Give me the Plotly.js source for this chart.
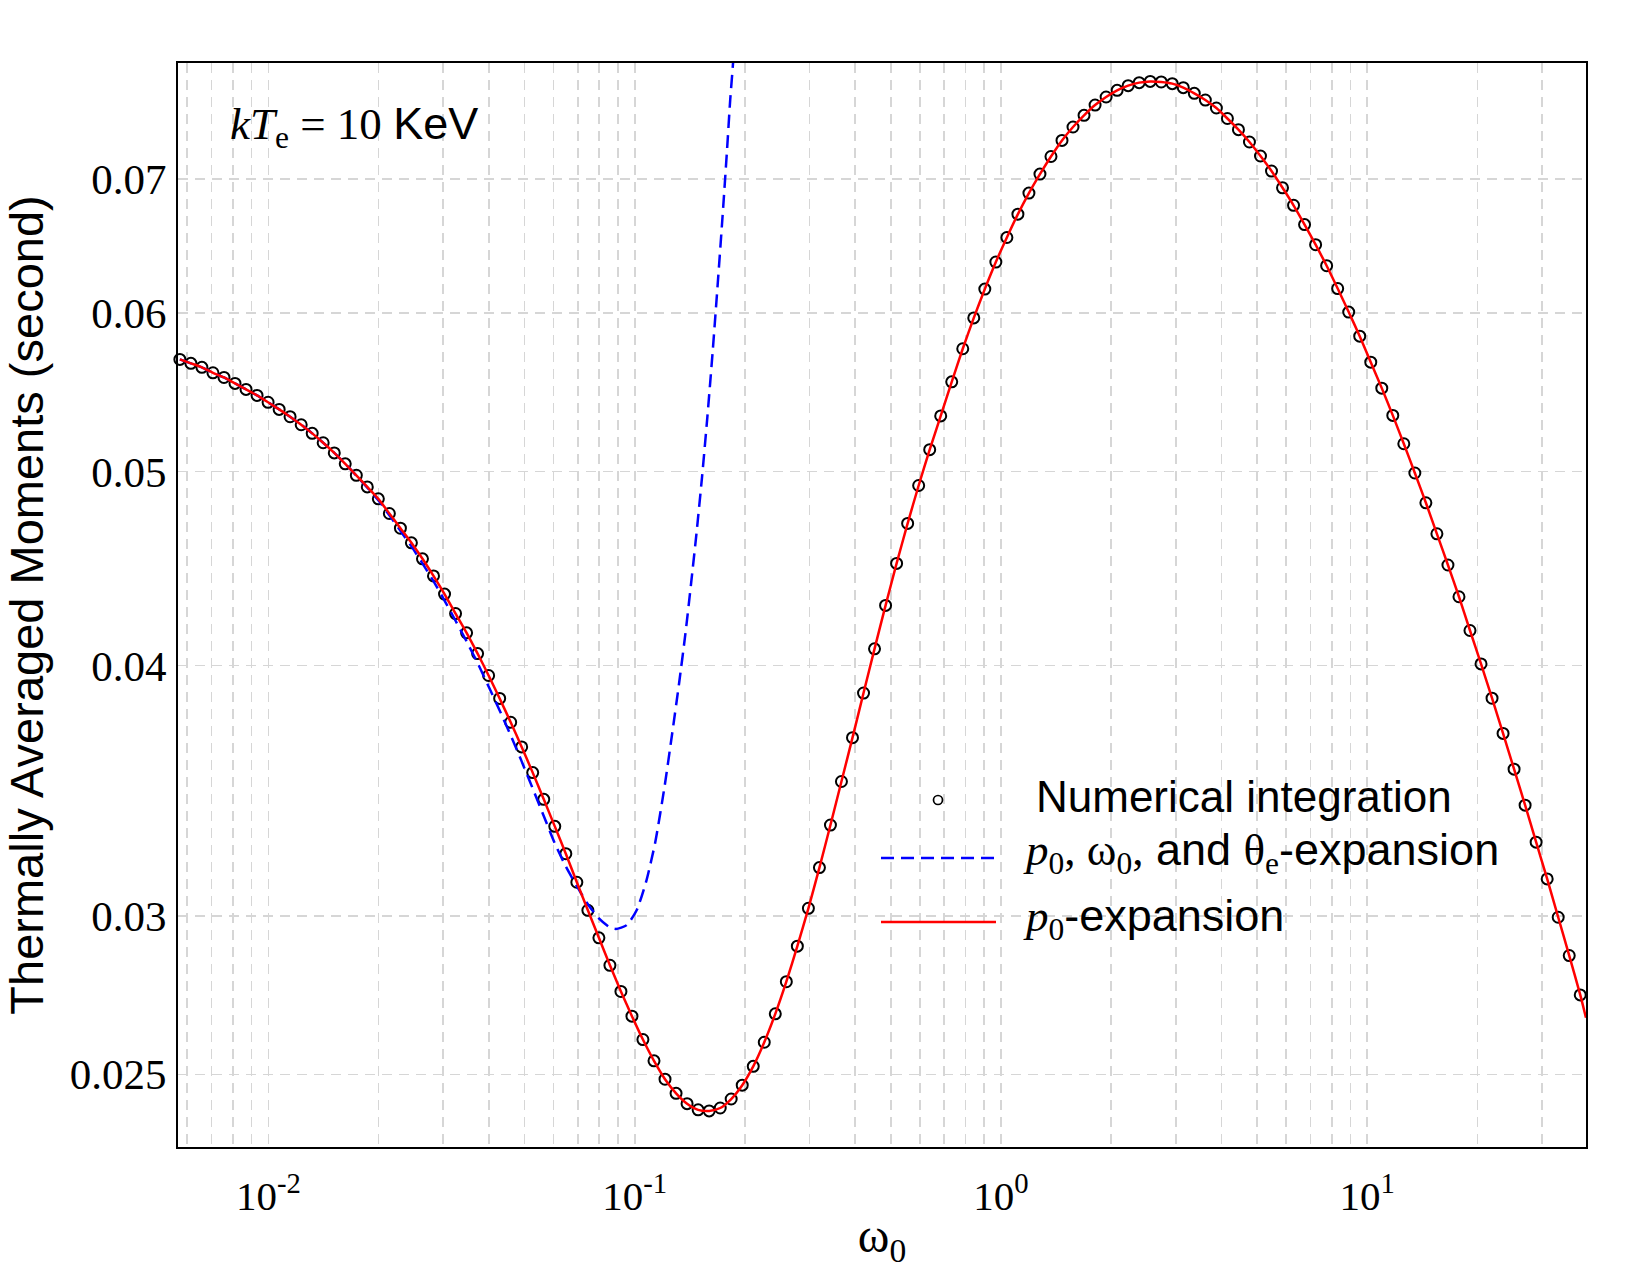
<!DOCTYPE html>
<html>
<head>
<meta charset="utf-8">
<script src="https://cdn.plot.ly/plotly-3.0.1.min.js"></script>
<style>html,body{margin:0;padding:0;background:#fff}</style>
</head>
<body>
<div id="chart" style="width:1650px;height:1275px"></div>
<script>
// Photon energy grid (omega_0) shared by the numerical integration points
const omega = [
  0.005732, 0.006143, 0.006584, 0.007057, 0.007564, 0.008107, 0.008689, 0.009312, 0.009981, 0.01070,
  0.01146, 0.01229, 0.01317, 0.01411, 0.01513, 0.01621, 0.01738, 0.01862, 0.01996, 0.02139,
  0.02293, 0.02457, 0.02634, 0.02823, 0.03026, 0.03243, 0.03476, 0.03725, 0.03992, 0.04279,
  0.04586, 0.04914, 0.05267, 0.05646, 0.06051, 0.06486, 0.06951, 0.07450, 0.07985, 0.08558,
  0.09171, 0.09829, 0.1053, 0.1129, 0.1210, 0.1297, 0.1390, 0.1490, 0.1597, 0.1712,
  0.1834, 0.1966, 0.2107, 0.2258, 0.2420, 0.2594, 0.2780, 0.2980, 0.3194, 0.3423,
  0.3668, 0.3932, 0.4214, 0.4516, 0.4841, 0.5188, 0.5561, 0.5960, 0.6388, 0.6846,
  0.7337, 0.7863, 0.8428, 0.9033, 0.9682, 1.0377, 1.1122, 1.1919, 1.2776, 1.3692,
  1.4674, 1.5726, 1.6855, 1.8066, 1.9364, 2.0754, 2.2244, 2.3839, 2.5551, 2.7384,
  2.9348, 3.1452, 3.3710, 3.6132, 3.8728, 4.1508, 4.4488, 4.7677, 5.1103, 5.4769,
  5.8696, 6.2904, 6.7420, 7.2264, 7.7455, 8.3016, 8.8975, 9.5355, 10.221, 10.954,
  11.739, 12.581, 13.484, 14.453, 15.491, 16.603, 17.795, 19.071, 20.441, 21.907,
  23.478, 25.162, 26.968, 28.905, 30.982, 33.206, 35.590, 38.142
];

// Thermally averaged second moment from direct numerical integration
const numerical = [
  0.05689, 0.05663, 0.05637, 0.05602, 0.05572, 0.05534, 0.05496, 0.05458, 0.05415, 0.05371,
  0.05326, 0.05277, 0.05225, 0.05169, 0.05109, 0.05045, 0.04979, 0.04913, 0.04846, 0.04765,
  0.04685, 0.04607, 0.04523, 0.04435, 0.04343, 0.04247, 0.04154, 0.04056, 0.03955, 0.03852,
  0.03748, 0.03643, 0.03537, 0.03430, 0.03325, 0.03222, 0.03118, 0.03019, 0.02925, 0.02834,
  0.02750, 0.02673, 0.02602, 0.02539, 0.02486, 0.02446, 0.02417, 0.02400, 0.02397, 0.02405,
  0.02430, 0.02469, 0.02523, 0.02594, 0.02680, 0.02781, 0.02897, 0.03026, 0.03171, 0.03330,
  0.03501, 0.03682, 0.03876, 0.04078, 0.04287, 0.04499, 0.04711, 0.04921, 0.05128, 0.05331,
  0.05544, 0.05759, 0.05967, 0.06168, 0.06363, 0.06545, 0.06723, 0.06888, 0.07040, 0.07184,
  0.07318, 0.07432, 0.07532, 0.07622, 0.07693, 0.07752, 0.07794, 0.07821, 0.07832, 0.07827,
  0.07812, 0.07776, 0.07725, 0.07666, 0.07596, 0.07505, 0.07409, 0.07305, 0.07188, 0.07065,
  0.06930, 0.06792, 0.06643, 0.06491, 0.06336, 0.06172, 0.06007, 0.05843, 0.05671, 0.05504,
  0.05334, 0.05163, 0.04992, 0.04824, 0.04655, 0.04491, 0.04330, 0.04165, 0.04008, 0.03853,
  0.03700, 0.03551, 0.03407, 0.03265, 0.03130, 0.02995, 0.02866, 0.02739
];

// p0-expansion: same grid, carried on to the right edge of the axis
const p0Omega = omega.concat([39.54]);
const p0Moment = numerical.concat([0.02668]);

// p0, omega0 and theta_e expansion (breaks down above omega0 ~ 0.1)
const fullExpOmega = omega.slice(0, 40).concat([
  0.08888, 0.09510, 0.1013, 0.1077, 0.1138, 0.1208, 0.1266, 0.1322, 0.1376, 0.1426,
  0.1475, 0.1527, 0.1579, 0.1634, 0.1686, 0.1737, 0.1787, 0.1823, 0.1856, 0.1891
]);
const fullExpMoment = [
  0.05689, 0.05663, 0.05637, 0.05602, 0.05572, 0.05534, 0.05496, 0.05458, 0.05415, 0.05371,
  0.05326, 0.05277, 0.05225, 0.05169, 0.05109, 0.05045, 0.04977, 0.04909, 0.04838, 0.04755,
  0.04671, 0.04588, 0.04499, 0.04408, 0.04311, 0.04212, 0.04113, 0.04012, 0.03905, 0.03799,
  0.03692, 0.03583, 0.03473, 0.03365, 0.03261, 0.03175, 0.03104, 0.03040, 0.02991, 0.02960,
  0.02955, 0.02968, 0.03020, 0.03125, 0.03265, 0.03486, 0.03701, 0.03920, 0.04152, 0.04399,
  0.04659, 0.04969, 0.05324, 0.05752, 0.06212, 0.06703, 0.07240, 0.07669, 0.08003, 0.08506
];

// Axis ticks: decades are labelled, 2..9 x 10^k only carry a grid line
const xTickVals = [0.01, 0.1, 1, 10];
const xTickText = ['10<sup>-2</sup>', '10<sup>-1</sup>', '10<sup>0</sup>', '10<sup>1</sup>'];
const xMinorVals = [0.006, 0.007, 0.008, 0.009,
  0.02, 0.03, 0.04, 0.05, 0.06, 0.07, 0.08, 0.09,
  0.2, 0.3, 0.4, 0.5, 0.6, 0.7, 0.8, 0.9,
  2, 3, 4, 5, 6, 7, 8, 9,
  20, 30];
const yTickVals = [0.025, 0.03, 0.04, 0.05, 0.06, 0.07];
const yTickText = ['0.025', '0.03', '0.04', '0.05', '0.06', '0.07'];

const SERIF = 'Liberation Serif, Times New Roman, serif';
const SANS = 'Liberation Sans, Arial, sans-serif';
const BLUE = '#0000ff';
const RED = '#ff0000';
const GRID = '#d6d6d6';
const DASH = '10px,7px';

const traces = [
  {
    x: omega, y: numerical, type: 'scatter', mode: 'markers',
    name: 'Numerical integration', cliponaxis: false,
    marker: {symbol: 'circle-open', size: 11, color: '#000', line: {width: 2, color: '#000'}}
  },
  {
    x: fullExpOmega, y: fullExpMoment, type: 'scatter', mode: 'lines',
    name: 'p0, omega0, and theta_e-expansion',
    line: {color: BLUE, width: 2.5, dash: '13px,7px', shape: 'spline', smoothing: 0.6}
  },
  {
    x: p0Omega, y: p0Moment, type: 'scatter', mode: 'lines',
    name: 'p0-expansion',
    line: {color: RED, width: 2.5, shape: 'spline', smoothing: 0.6}
  }
];

// Plot-area geometry in pixels, used to place the hand-drawn legend keys
const PL = 178, PR = 1586, PT = 63, PB = 1147;
const px = X => (X - PL) / (PR - PL);
const py = Y => 1 - (Y - PT) / (PB - PT);

const layout = {
  width: 1650, height: 1275,
  margin: {l: PL, r: 1650 - PR, t: PT, b: 1275 - PB, pad: 0},
  paper_bgcolor: '#fff', plot_bgcolor: '#fff',
  showlegend: false,
  xaxis: {
    type: 'log', range: [-2.2468, 1.5971],
    tickmode: 'array', tickvals: xTickVals, ticktext: xTickText,
    ticks: '', ticklabelstandoff: 12,
    tickfont: {family: SERIF, size: 41, color: '#000'},
    showgrid: true, gridcolor: GRID, gridwidth: 1.6, griddash: DASH,
    minor: {tickmode: 'array', tickvals: xMinorVals, ticks: '',
            showgrid: true, gridcolor: GRID, gridwidth: 1.6, griddash: DASH},
    showline: true, mirror: true, linecolor: '#000', linewidth: 2,
    zeroline: false,
    title: {text: 'ω<sub>0</sub>', font: {family: SERIF, size: 48, color: '#000'}, standoff: 0}
  },
  yaxis: {
    type: 'log', range: [-1.63836, -1.09693],
    tickmode: 'array', tickvals: yTickVals, ticktext: yTickText,
    ticks: '', ticklabelstandoff: 1,
    tickfont: {family: SERIF, size: 43, color: '#000'},
    showgrid: true, gridcolor: GRID, gridwidth: 1.6, griddash: DASH,
    showline: true, mirror: true, linecolor: '#000', linewidth: 2,
    zeroline: false,
    title: {text: 'Thermally Averaged Moments (second)', font: {family: SANS, size: 47, color: '#000'}, standoff: 38}
  },
  shapes: [
    {type: 'line', xref: 'paper', yref: 'paper', x0: px(881), x1: px(996), y0: py(858), y1: py(858),
     line: {color: BLUE, width: 2.5, dash: '13px,7px'}},
    {type: 'line', xref: 'paper', yref: 'paper', x0: px(881), x1: px(996), y0: py(922), y1: py(922),
     line: {color: RED, width: 2.5}},
    {type: 'circle', xref: 'paper', yref: 'paper', xsizemode: 'pixel', ysizemode: 'pixel',
     xanchor: px(938), yanchor: py(800), x0: -4.5, x1: 4.5, y0: -4.5, y1: 4.5,
     line: {color: '#000', width: 1.7}}
  ],
  annotations: [
    {xref: 'paper', yref: 'paper', x: px(228), y: py(127), xanchor: 'left', yanchor: 'middle',
     showarrow: false, font: {family: SANS, size: 45, color: '#000'},
     text: '<span style="font-family:Liberation Serif"><i>kT</i><sub>e</sub> = 10 </span>KeV'},
    {xref: 'paper', yref: 'paper', x: px(1034), y: py(796), xanchor: 'left', yanchor: 'middle',
     showarrow: false, font: {family: SANS, size: 44, color: '#000'},
     text: 'Numerical integration'},
    {xref: 'paper', yref: 'paper', x: px(1021), y: py(852), xanchor: 'left', yanchor: 'middle',
     showarrow: false, font: {family: SANS, size: 45, color: '#000'},
     text: '<span style="font-family:Liberation Serif"><i>p</i><sub>0</sub>, ω<sub>0</sub>,</span> and <span style="font-family:Liberation Serif">θ<sub>e</sub></span>-expansion'},
    {xref: 'paper', yref: 'paper', x: px(1021), y: py(918), xanchor: 'left', yanchor: 'middle',
     showarrow: false, font: {family: SANS, size: 45, color: '#000'},
     text: '<span style="font-family:Liberation Serif"><i>p</i><sub>0</sub></span>-expansion'}
  ]
};

Plotly.newPlot('chart', traces, layout, {staticPlot: true, displayModeBar: false});
</script>
</body>
</html>
